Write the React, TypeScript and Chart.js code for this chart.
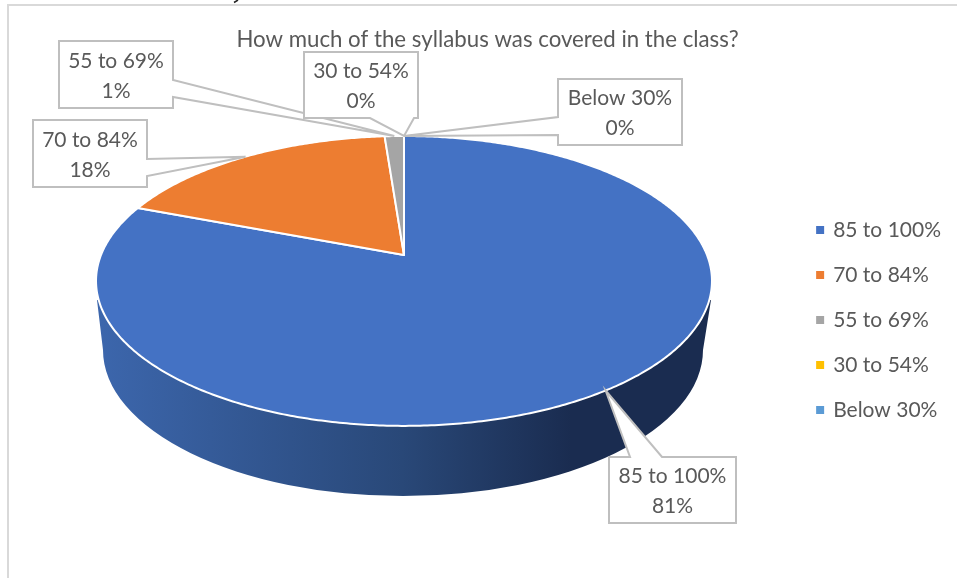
import React, { useEffect, useRef } from "react";
import { Chart, registerables } from "chart.js";

Chart.register(...registerables);

const titleText = "How much of the syllabus was covered in the class?";
const categories = ["85 to 100%", "70 to 84%", "55 to 69%", "30 to 54%", "Below 30%"];
const shares = [80.8, 18, 1.2, 0, 0];
const sliceColors = ["#4472c4", "#ed7d31", "#a5a5a5", "#ffc000", "#5b9bd5"];

const FONT = "Lato";
const TEXT = "#595959";
const EDGE = "#bfbfbf";

// perspective model of the pie's top face
const apex = { x: 404, y: 255 };
const proj = { a: 303, b: 140.3, k: -0.179 };
const project = (angle: number) => {
  const t = angle + Math.PI / 2;
  const sx = Math.sin(t);
  const sy = -Math.cos(t);
  const w = 1 + proj.k * sy;
  return { x: apex.x + (proj.a * sx) / w, y: apex.y + (proj.b * sy) / w };
};

// callout layout: [left, top, right, bottom], and the two points where the leader leaves the box
const calloutLayout: Record<string, any> = {
  "85 to 100%": { box: [609, 457, 736, 523], from: [[662, 457], [630, 457]] },
  "70 to 84%": { box: [33, 120, 147, 187], from: [[147, 176], [147, 159]] },
  "55 to 69%": { box: [59, 41, 173, 108], from: [[173, 97], [173, 80]] },
  "30 to 54%": { box: [304, 52, 418, 118], from: [[414, 118], [370, 118]] },
  "Below 30%": { box: [558, 79, 682, 145], from: [[558, 117], [558, 135]] },
};

const piePlugin = {
  id: "pie3d",
  beforeDraw(chart: any) {
    const { ctx } = chart;
    ctx.save();
    ctx.fillStyle = "#ffffff";
    ctx.fillRect(0, 0, 957, 578);
    ctx.strokeStyle = "#d9d9d9";
    ctx.lineWidth = 2;
    ctx.beginPath();
    ctx.moveTo(8, 578);
    ctx.lineTo(8, 5);
    ctx.lineTo(957, 5);
    ctx.stroke();
    ctx.strokeStyle = "#222222";
    ctx.lineWidth = 1.5;
    ctx.beginPath();
    ctx.moveTo(238, 0);
    ctx.lineTo(234, 2.5);
    ctx.stroke();
    ctx.restore();
  },
  beforeDatasetDraw(chart: any) {
    const { ctx } = chart;
    const arcs = chart.getDatasetMeta(0).data;
    ctx.save();
    // side wall
    const grad = ctx.createLinearGradient(100, 0, 704, 0);
    grad.addColorStop(0, "#3c66ac");
    grad.addColorStop(0.5, "#294878");
    grad.addColorStop(0.78, "#1a2c50");
    grad.addColorStop(1, "#1a2c50");
    ctx.fillStyle = grad;
    ctx.beginPath();
    ctx.moveTo(97, 300);
    ctx.lineTo(103, 350);
    ctx.ellipse(403, 350, 300, 146, 0, Math.PI, 0, true);
    ctx.lineTo(711, 300);
    ctx.closePath();
    ctx.fill();
    // top face, one path per slice
    arcs.forEach((arc: any, i: number) => {
      const { startAngle, endAngle } = arc;
      if (endAngle - startAngle <= 0) return;
      ctx.beginPath();
      ctx.moveTo(apex.x, apex.y);
      const steps = Math.max(2, Math.ceil((endAngle - startAngle) / 0.01));
      for (let s = 0; s <= steps; s++) {
        const p = project(startAngle + ((endAngle - startAngle) * s) / steps);
        ctx.lineTo(p.x, p.y);
      }
      ctx.closePath();
      ctx.fillStyle = sliceColors[i];
      ctx.fill();
      ctx.strokeStyle = "#ffffff";
      ctx.lineWidth = 2;
      ctx.lineJoin = "round";
      ctx.stroke();
    });
    ctx.restore();
    return false;
  },
  afterDatasetsDraw(chart: any) {
    const { ctx } = chart;
    const arcs = chart.getDatasetMeta(0).data;
    const total = shares.reduce((a, b) => a + b, 0);
    ctx.save();
    categories.forEach((name, i) => {
      const { box, from } = calloutLayout[name];
      const [l, t, r, b] = box;
      const tip = project((arcs[i].startAngle + arcs[i].endAngle) / 2);
      ctx.beginPath();
      if (from[0][0] === r) {
        ctx.moveTo(l, t); ctx.lineTo(r, t); ctx.lineTo(from[1][0], from[1][1]);
        ctx.lineTo(tip.x, tip.y); ctx.lineTo(from[0][0], from[0][1]);
        ctx.lineTo(r, b); ctx.lineTo(l, b);
      } else if (from[0][1] === b) {
        ctx.moveTo(l, t); ctx.lineTo(r, t); ctx.lineTo(r, b); ctx.lineTo(from[0][0], from[0][1]);
        ctx.lineTo(tip.x, tip.y); ctx.lineTo(from[1][0], from[1][1]); ctx.lineTo(l, b);
      } else if (from[0][1] === t) {
        ctx.moveTo(l, t); ctx.lineTo(from[1][0], from[1][1]);
        ctx.lineTo(tip.x, tip.y); ctx.lineTo(from[0][0], from[0][1]);
        ctx.lineTo(r, t); ctx.lineTo(r, b); ctx.lineTo(l, b);
      } else {
        ctx.moveTo(l, t); ctx.lineTo(r, t); ctx.lineTo(r, b); ctx.lineTo(l, b);
        ctx.lineTo(from[1][0], from[1][1]); ctx.lineTo(tip.x, tip.y); ctx.lineTo(from[0][0], from[0][1]);
      }
      ctx.closePath();
      ctx.fillStyle = "#ffffff";
      ctx.fill();
      ctx.strokeStyle = EDGE;
      ctx.lineWidth = 2;
      ctx.lineJoin = "miter";
      ctx.stroke();
      ctx.fillStyle = TEXT;
      ctx.font = `21px ${FONT}`;
      ctx.textAlign = "center";
      ctx.textBaseline = "middle";
      const cx = (l + r) / 2;
      const cy = (t + b) / 2;
      ctx.fillText(name, cx, cy - 13.5);
      ctx.fillText(`${Math.round((shares[i] / total) * 100)}%`, cx, cy + 16.5);
    });
    ctx.restore();
  },
};

export default function App() {
  const ref = useRef<HTMLCanvasElement>(null);
  useEffect(() => {
    const chart = new Chart(ref.current as HTMLCanvasElement, {
      type: "pie",
      data: {
        labels: categories,
        datasets: [{ data: shares, backgroundColor: sliceColors, borderWidth: 0 }],
      },
      options: {
        responsive: false,
        animation: false,
        events: [],
        layout: { padding: { left: 24, right: 6, top: 26, bottom: -36 } },
        plugins: {
          tooltip: { enabled: false },
          title: {
            display: true,
            text: titleText,
            color: TEXT,
            font: { family: FONT, size: 22.25, weight: "normal" },
            padding: { top: 0, bottom: 32 },
          },
          legend: {
            display: true,
            position: "right",
            labels: {
              color: TEXT,
              font: { family: FONT, size: 21 },
              usePointStyle: true,
              pointStyle: "rect",
              boxWidth: 5,
              boxHeight: 8,
              padding: 24,
            },
          },
        },
      },
      plugins: [piePlugin],
    } as any);
    return () => chart.destroy();
  }, []);
  return (
    <canvas
      ref={ref}
      width={957}
      height={578}
      style={{ position: "absolute", left: 0, top: 0, width: 957, height: 578 }}
    />
  );
}
